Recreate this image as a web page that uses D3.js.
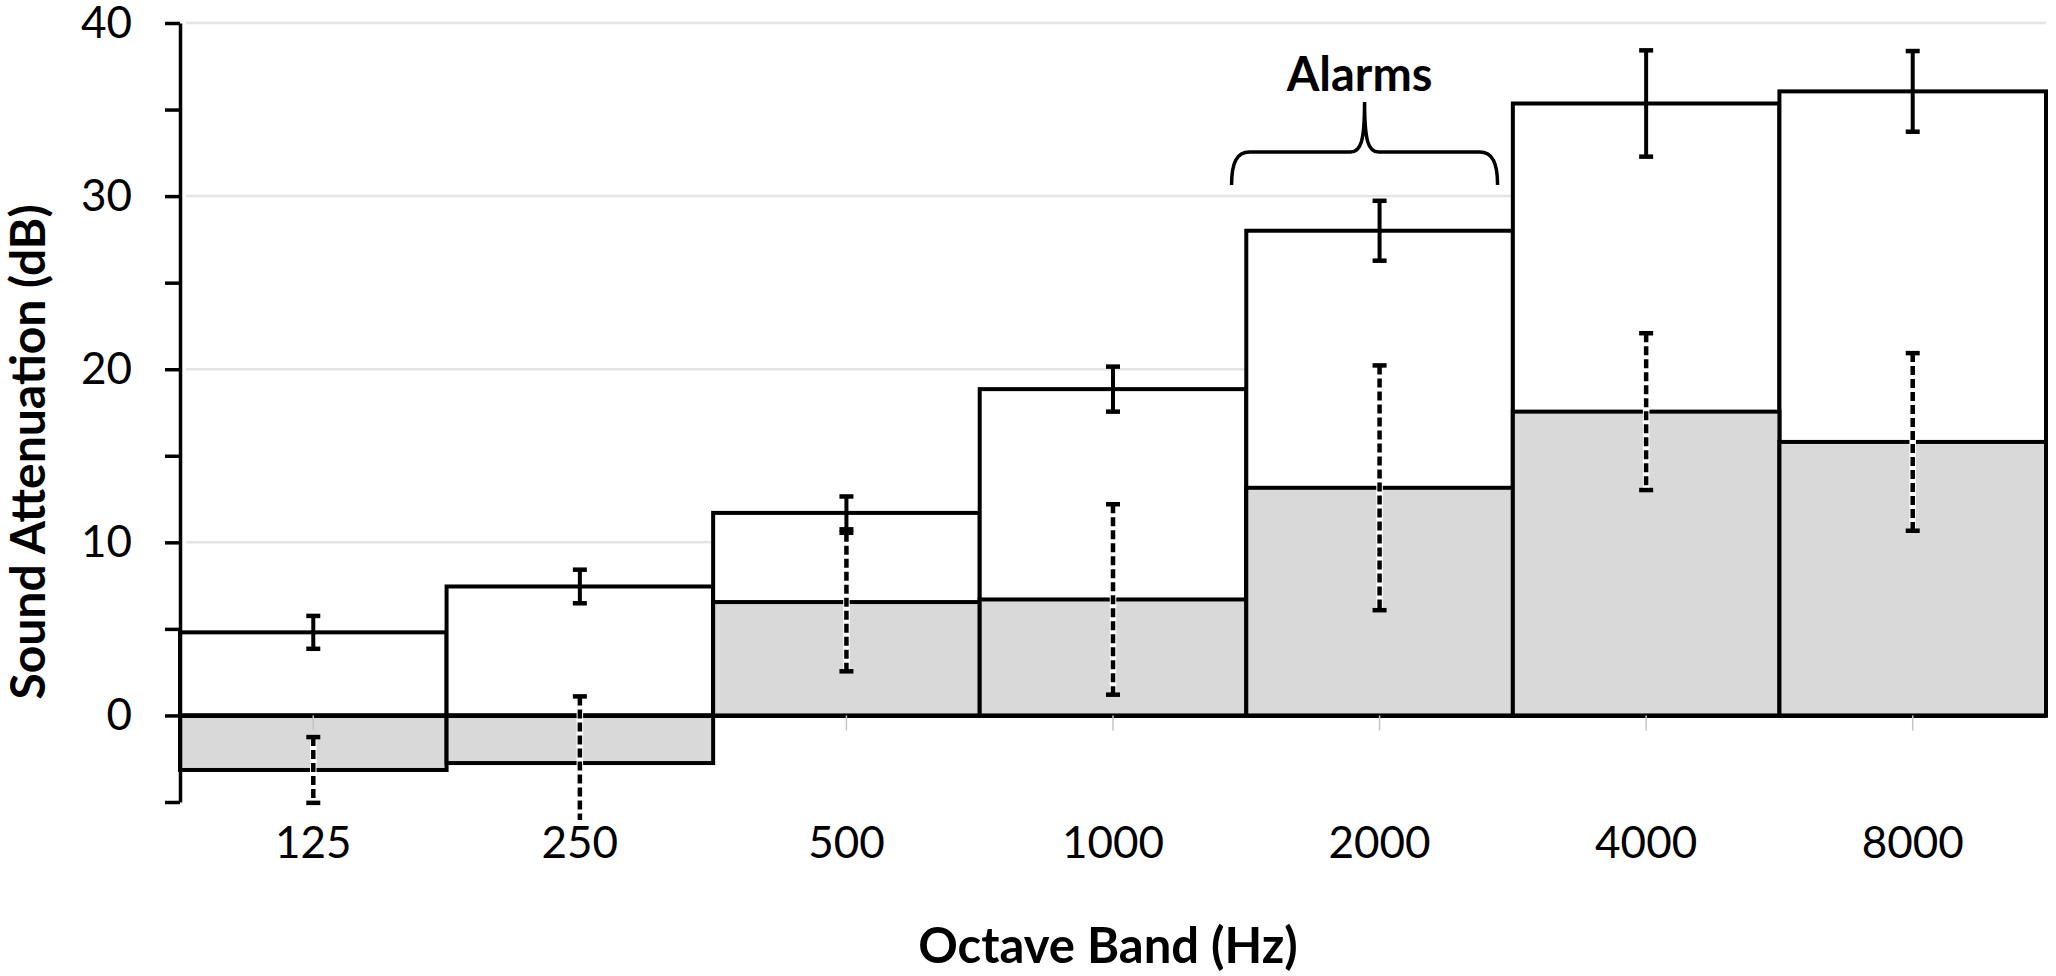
<!DOCTYPE html>
<html><head><meta charset="utf-8">
<script src="https://cdn.jsdelivr.net/npm/d3@7"></script>
<style>
body{margin:0;background:#fff;}
svg{display:block;font-family:Lato,"Open Sans",sans-serif;}
</style>
</head><body>
<svg id="c" width="2056" height="976"></svg>
<script>
// ---- data ----
const categories = ["125","250","500","1000","2000","4000","8000"];
const meanA = [4.8, 7.45, 11.7, 18.85, 28.0, 35.35, 36.05];   // white bars, solid error bars
const errA  = [0.95, 0.97, 0.95, 1.3, 1.73, 3.07, 2.33];
const meanB = [-3.15, -2.75, 6.55, 6.7, 13.15, 17.55, 15.8];  // grey bars, dashed error bars
const errB  = [1.9, 3.85, 4.0, 5.5, 7.07, 4.53, 5.13];
const yTicks = [-5,0,5,10,15,20,25,30,35,40];
const yLabelTicks = [0,10,20,30,40];
const gridTicks = [10,20,30,40];
const alarmBand = "2000";
const alarmLabel = "Alarms";
const xTitle = "Octave Band (Hz)";
const yTitle = "Sound Attenuation (dB)";

const svg = d3.select("#c");
const x = d3.scaleBand().domain(categories).range([180, 2046]).padding(0);
const y = d3.scaleLinear().domain([-5, 40]).range([802, 23]);
const bw = x.bandwidth();
const data = categories.map((c,i)=>({c, a:meanA[i], ea:errA[i], b:meanB[i], eb:errB[i]}));

// gridlines
svg.append("g").selectAll("line").data(gridTicks).join("line")
  .attr("x1", 186).attr("x2", 2046)
  .attr("y1", d=>y(d)).attr("y2", d=>y(d))
  .attr("stroke", "#e4e4e4").attr("stroke-width", 2.5);

// white bars
svg.append("g").selectAll("rect").data(data).join("rect")
  .attr("x", d=>x(d.c)).attr("width", bw)
  .attr("y", d=>y(Math.max(0,d.a))).attr("height", d=>Math.abs(y(d.a)-y(0)))
  .attr("fill", "#fff").attr("stroke", "#000").attr("stroke-width", 4);

// grey bars
svg.append("g").selectAll("rect").data(data).join("rect")
  .attr("x", d=>x(d.c)).attr("width", bw)
  .attr("y", d=>y(Math.max(0,d.b))).attr("height", d=>Math.abs(y(d.b)-y(0)))
  .attr("fill", "#d9d9d9").attr("stroke", "#000").attr("stroke-width", 4);

// x axis
const xg = svg.append("g").attr("transform", `translate(0,${y(0)})`)
  .call(d3.axisBottom(x).tickSize(15).tickSizeOuter(0));
xg.select(".domain").attr("stroke", "#000").attr("stroke-width", 4);
xg.selectAll(".tick line").attr("stroke", "#c4c4c4").attr("stroke-width", 1.5);
xg.selectAll(".tick text").attr("y", 143).attr("dy", 0)
  .attr("font-size", 44).attr("fill", "#000").attr("font-family", "Lato");

// error bars (clipped like the plot area)
svg.append("defs").append("clipPath").attr("id","clip")
  .append("rect").attr("x",0).attr("y",0).attr("width",2056).attr("height",820);
const eg = svg.append("g").attr("clip-path","url(#clip)");
const cap = 7;
// dashed (grey series)
const dg = eg.append("g").selectAll("g").data(data).join("g");
dg.append("line").attr("x1", d=>x(d.c)+bw/2).attr("x2", d=>x(d.c)+bw/2)
  .attr("y1", d=>y(d.b+d.eb)).attr("y2", d=>y(d.b-d.eb))
  .attr("stroke", "#fff").attr("stroke-width", 6.5);
dg.append("line").attr("x1", d=>x(d.c)+bw/2).attr("x2", d=>x(d.c)+bw/2)
  .attr("y1", d=>y(d.b+d.eb)).attr("y2", d=>y(d.b-d.eb))
  .attr("stroke", "#000").attr("stroke-width", 4.5).attr("stroke-dasharray", "9,4");
[1,-1].forEach(s=>{
  dg.append("line").attr("x1", d=>x(d.c)+bw/2-cap).attr("x2", d=>x(d.c)+bw/2+cap)
    .attr("y1", d=>y(d.b+s*d.eb)).attr("y2", d=>y(d.b+s*d.eb))
    .attr("stroke", "#000").attr("stroke-width", 4.5);
});
// solid (white series)
const sg = eg.append("g").selectAll("g").data(data).join("g");
sg.append("line").attr("x1", d=>x(d.c)+bw/2).attr("x2", d=>x(d.c)+bw/2)
  .attr("y1", d=>y(d.a+d.ea)).attr("y2", d=>y(d.a-d.ea))
  .attr("stroke", "#000").attr("stroke-width", 4);
[1,-1].forEach(s=>{
  sg.append("line").attr("x1", d=>x(d.c)+bw/2-cap).attr("x2", d=>x(d.c)+bw/2+cap)
    .attr("y1", d=>y(d.a+s*d.ea)).attr("y2", d=>y(d.a+s*d.ea))
    .attr("stroke", "#000").attr("stroke-width", 4.5);
});

// y axis
const yg = svg.append("g").attr("transform", "translate(180,0)")
  .call(d3.axisLeft(y).tickValues(yTicks).tickSize(15).tickSizeOuter(0).tickPadding(33)
    .tickFormat(d => yLabelTicks.includes(d) ? d : ""));
yg.select(".domain").attr("stroke", "#000").attr("stroke-width", 3.5);
yg.selectAll(".tick line").attr("stroke", "#000").attr("stroke-width", 3.5);
yg.selectAll(".tick text").attr("font-size", 44).attr("fill", "#000").attr("font-family", "Lato");

// titles
svg.append("text").attr("transform", "translate(45,452) rotate(-90)")
  .attr("text-anchor", "middle").attr("font-weight", "bold").attr("font-size", 48)
  .text(yTitle);
svg.append("text").attr("x", (180+2046)/2 - 5).attr("y", 963)
  .attr("text-anchor", "middle").attr("font-weight", "bold").attr("font-size", 49)
  .text(xTitle);

// alarms bracket annotation
const cx = x(alarmBand) + bw/2 - 15;
const L = cx - 133, R = cx + 133, hy = 152, by = 185, py = 102;
svg.append("path")
  .attr("d", `M${L},${by} C${L},${hy+11} ${L+5},${hy} ${L+18},${hy} L${cx-14},${hy} C${cx-4},${hy} ${cx},${hy-10} ${cx},${py} C${cx},${hy-10} ${cx+4},${hy} ${cx+14},${hy} L${R-18},${hy} C${R-5},${hy} ${R},${hy+11} ${R},${by}`)
  .attr("fill", "none").attr("stroke", "#000").attr("stroke-width", 3.5);
svg.append("text").attr("x", cx - 5).attr("y", 91)
  .attr("text-anchor", "middle").attr("font-weight", "bold").attr("font-size", 47)
  .text(alarmLabel);
</script>
</body></html>
